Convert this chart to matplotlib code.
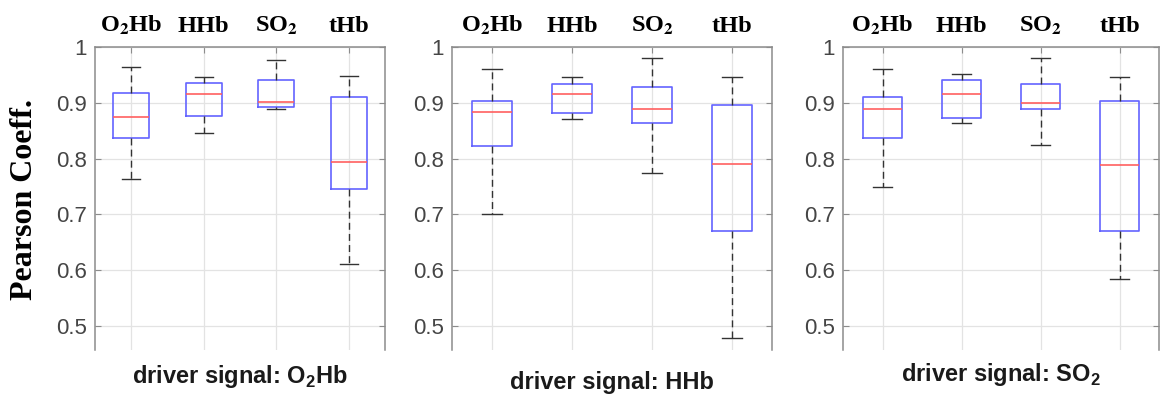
import matplotlib
matplotlib.use("Agg")
import matplotlib.pyplot as plt

plt.rcParams['mathtext.fontset'] = 'custom'
plt.rcParams['mathtext.rm'] = 'Liberation Sans:bold'
plt.rcParams['mathtext.bf'] = 'Liberation Sans:bold'

categories = [r'O$_{\mathbf{2}}$Hb', 'HHb', r'SO$_{\mathbf{2}}$', 'tHb']
drivers = [r'driver signal: O$_{\mathbf{2}}$Hb', 'driver signal: HHb',
           r'driver signal: SO$_{\mathbf{2}}$']

# per panel, per category: whisker low, Q1, median, Q3, whisker high
p1_low = [0.764, 0.846, 0.889, 0.612]
p1_q1 = [0.837, 0.877, 0.892, 0.745]
p1_med = [0.875, 0.916, 0.902, 0.794]
p1_q3 = [0.917, 0.936, 0.940, 0.910]
p1_high = [0.964, 0.946, 0.977, 0.948]

p2_low = [0.700, 0.871, 0.774, 0.479]
p2_q1 = [0.823, 0.881, 0.864, 0.671]
p2_med = [0.884, 0.916, 0.889, 0.791]
p2_q3 = [0.904, 0.934, 0.928, 0.896]
p2_high = [0.961, 0.947, 0.980, 0.947]

p3_low = [0.750, 0.864, 0.824, 0.585]
p3_q1 = [0.837, 0.872, 0.889, 0.671]
p3_med = [0.888, 0.916, 0.899, 0.788]
p3_q3 = [0.911, 0.941, 0.933, 0.904]
p3_high = [0.961, 0.951, 0.980, 0.947]

yticks = [0.5, 0.6, 0.7, 0.8, 0.9, 1.0]
ytick_labels = ['0.5', '0.6', '0.7', '0.8', '0.9', '1']

panels = [
    (p1_low, p1_q1, p1_med, p1_q3, p1_high),
    (p2_low, p2_q1, p2_med, p2_q3, p2_high),
    (p3_low, p3_q1, p3_med, p3_q3, p3_high),
]

W, H = 1161, 394
fig = plt.figure(figsize=(W / 100, H / 100), dpi=100)
rects = [(95, 290), (452, 320), (843, 316)]
ax_top, ax_bot = 47, 350
label_y = [376, 382, 375]

box_col = '#6464ff'
med_col = '#ff6060'
spine_col = '#8c8c8c'
tick_col = '#454545'

for i, ((left, width), data) in enumerate(zip(rects, panels)):
    ax = fig.add_axes([left / W, 1 - ax_bot / H, width / W, (ax_bot - ax_top) / H])
    low, q1, med, q3, high = data
    stats = []
    for k in range(4):
        stats.append(dict(whislo=low[k], q1=q1[k], med=med[k], q3=q3[k],
                          whishi=high[k], fliers=[]))
    ax.bxp(stats, positions=[1, 2, 3, 4], widths=0.5, showfliers=False,
           capwidths=0.25,
           boxprops=dict(color=box_col, linewidth=1.2),
           medianprops=dict(color=med_col, linewidth=1.2),
           whiskerprops=dict(color='#333333', linewidth=1.0, linestyle=(0, (5, 3))),
           capprops=dict(color='#333333', linewidth=1.0))
    ax.set_xlim(0.5, 4.5)
    ax.set_ylim(0.457, 1.0)
    ax.set_yticks(yticks)
    ax.set_yticklabels(ytick_labels)
    ax.grid(True, color='#e3e3e3', linewidth=0.9)
    ax.set_axisbelow(True)
    ax.spines['bottom'].set_visible(False)
    for s in ['left', 'right', 'top']:
        ax.spines[s].set_color(spine_col)
        ax.spines[s].set_linewidth(1.1)
    ax.tick_params(axis='y', direction='in', left=True, right=True, length=4,
                   color=spine_col, labelsize=16, labelcolor=tick_col, pad=6)
    for t in ax.get_yticklabels():
        t.set_fontfamily('Liberation Sans')
    ax.set_xticks([1, 2, 3, 4])
    ax.set_xticklabels(categories)
    ax.xaxis.set_ticks_position('top')
    ax.tick_params(axis='x', direction='in', top=True, bottom=False, length=4,
                   color=spine_col, pad=11)
    for t in ax.get_xticklabels():
        t.set_fontfamily('Liberation Serif')
        t.set_fontweight('bold')
        t.set_fontsize(17.5)
        t.set_math_fontfamily('stix')
        t.set_verticalalignment('baseline')
    cx = (left + width / 2) / W
    fig.text(cx, 1 - label_y[i] / H, drivers[i], ha='center', va='center',
             fontsize=17, fontfamily='Liberation Sans', fontweight='bold',
             color='#1a1a1a')
    if i == 0:
        fig.text(25 / W, 1 - 200 / H, 'Pearson Coeff.', rotation=90,
                 ha='center', va='center', fontsize=23,
                 fontfamily='Liberation Serif', fontweight='bold')

fig.savefig('out.png', dpi=100)
